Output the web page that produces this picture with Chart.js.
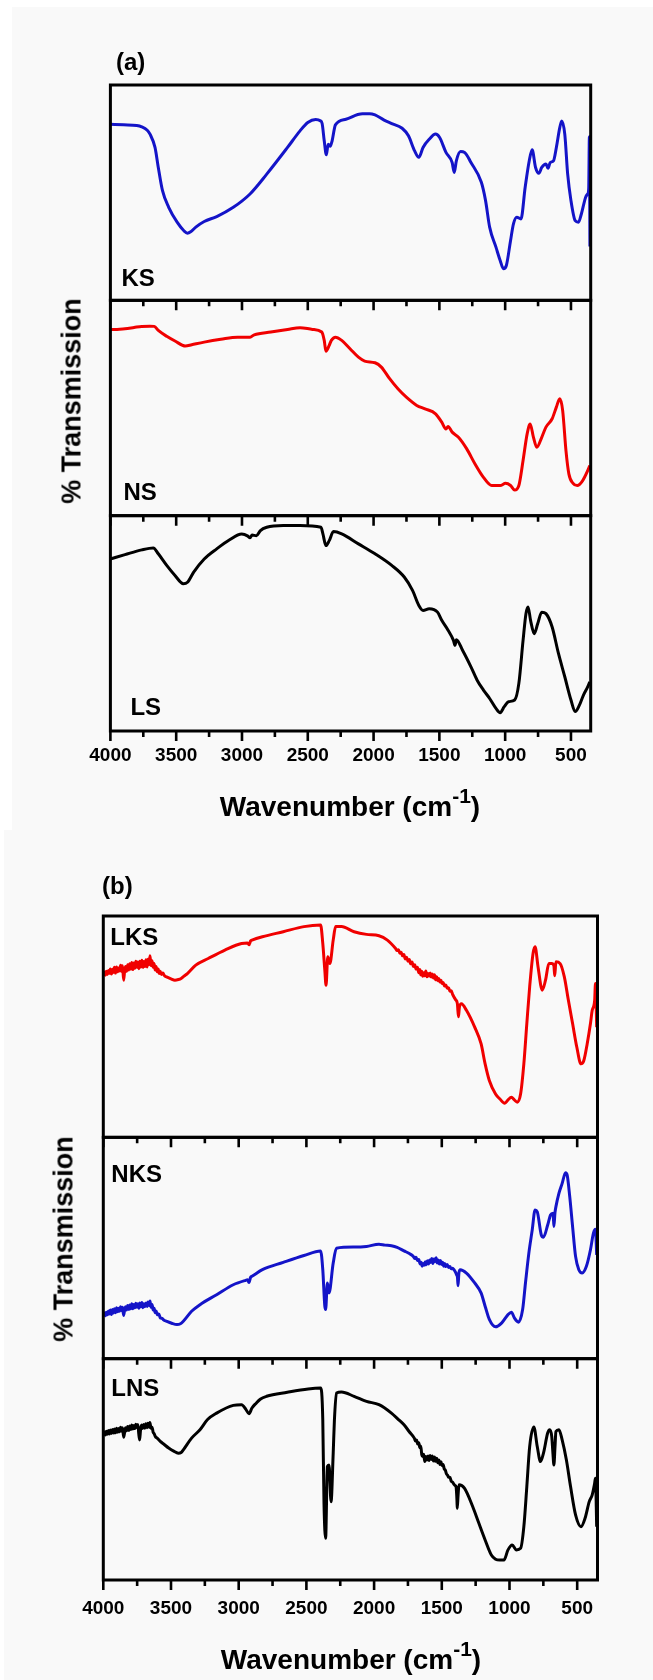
<!DOCTYPE html>
<html>
<head>
<meta charset="utf-8">
<script src="https://cdn.jsdelivr.net/npm/chart.js@4.4.1/dist/chart.umd.min.js"></script>
<style>
  body { margin: 0; background: #fff; width: 653px; height: 1680px; position: relative; overflow: hidden;
         font-family: "Liberation Sans", Arial, sans-serif; font-weight: bold; color: #000; }
  .panel { position: absolute; background: #f9f9f9; }
  #bgA { left: 12px; top: 7px; width: 641px; height: 823px; }
  #bgB { left: 4px; top: 830px; width: 649px; height: 850px; }
  canvas { position: absolute; left: 0; }
  #chartA { top: 0; }
  #chartB { top: 830px; }
  .txt { position: absolute; line-height: 1; white-space: nowrap; }
  .ytitle { font-size: 27px; transform: translate(-50%, -50%) rotate(-90deg); }
  .xtitle { font-size: 28px; transform: translateX(-50%); }
  .xtitle sup { font-size: 21px; vertical-align: baseline; position: relative; top: -13px; }
  .tag { font-size: 24px; }
</style>
</head>
<body>
<div class="panel" id="bgA"></div>
<div class="panel" id="bgB"></div>
<canvas id="chartA" width="653" height="830"></canvas>
<canvas id="chartB" width="653" height="850"></canvas>

<div class="txt tag" style="left:116px; top:50px;">(a)</div>
<div class="txt ytitle" style="left:72px; top:401px;">% Transmission</div>
<div class="txt xtitle" style="left:350px; top:793px;">Wavenumber (cm<sup>-1</sup>)</div>

<div class="txt tag" style="left:102px; top:874px;">(b)</div>
<div class="txt ytitle" style="left:64px; top:1239px;">% Transmission</div>
<div class="txt xtitle" style="left:351px; top:1646px;">Wavenumber (cm<sup>-1</sup>)</div>

<script>
// x axis (wavenumber, cm-1)
const xMin = 350, xMax = 4000;
const xTicks = [4000, 3500, 3000, 2500, 2000, 1500, 1000, 500];

// panel (a) spectra: [wavenumber, transmission (0-100 of its own strip)]
const KS = [[4000,81.8],[3900,81.5],[3800,81.2],[3762,80.6],[3720,79],[3699,77.2],[3661,71.0],[3636,61.7],[3604,50.9],[3557,43.2],[3493,36.3],[3440,32.2],[3415,31.2],[3390,31.8],[3351,34.0],[3287,36.6],[3192,38.9],[3066,43.2],[2939,49.4],[2812,58.6],[2654,71.0],[2559,78.7],[2500,82.6],[2440,84.0],[2405,83.4],[2391,82.1],[2375,74.1],[2359,67.6],[2345,72.5],[2330,71.5],[2315,74.1],[2290,81.5],[2210,84.1],[2120,86.3],[2084,86.7],[2030,86.7],[1989,86.1],[1920,83.7],[1862,82.1],[1783,79.9],[1735,76.4],[1688,69.4],[1656,66.4],[1624,71.0],[1577,74.8],[1529,77.2],[1498,75.6],[1450,68.7],[1403,64.0],[1387,59.4],[1371,64.8],[1339,69.1],[1308,68.7],[1260,64.0],[1181,54.8],[1149,46.3],[1118,34.0],[1070,24.7],[1038,18.5],[1013,14.7],[991,16.2],[959,27.8],[937,35.5],[912,38.6],[880,37.8],[848,52.5],[817,64.8],[795,69.9],[769,61.7],[744,59.0],[722,61.7],[690,63.3],[674,61.3],[658,64.0],[633,64.8],[611,71.0],[585,80.2],[570,83.3],[547,77.2],[525,58.6],[500,46.3],[468,37.0],[443,36.3],[421,40.1],[389,47.8],[373,49.4],[365,52],[360,76],[356,25]];
const NS = [[4000,86.4],[3930,86.6],[3889,86.8],[3820,87.4],[3762,87.9],[3700,88.0],[3667,87.9],[3636,86.0],[3572,83.3],[3509,81.1],[3430,78.8],[3382,79.4],[3287,80.6],[3161,81.9],[3034,82.9],[2939,82.9],[2907,84.0],[2781,85.3],[2654,86.5],[2559,87.3],[2464,86.5],[2394,85.3],[2375,81.4],[2362,76.4],[2337,79.1],[2321,81.4],[2290,82.9],[2242,81.4],[2179,77.5],[2115,73.6],[2068,71.8],[1989,71.0],[1941,69.0],[1878,63.6],[1815,58.9],[1751,55.0],[1672,51.2],[1609,49.6],[1529,47.3],[1482,43.4],[1450,40.3],[1434,41.4],[1403,38.8],[1355,36.4],[1292,31.0],[1229,24.0],[1165,17.8],[1102,14.0],[1038,14.0],[997,15.0],[959,14.0],[928,11.9],[896,14.0],[864,25.6],[833,38.0],[810,42.6],[785,36.4],[760,31.8],[722,36.4],[690,41.1],[643,45.0],[611,50.4],[585,54.3],[563,48.8],[538,30.2],[516,19.4],[484,15.0],[452,14.0],[411,16.3],[373,20.9],[357,23.3]];
const LS = [[4000,79.9],[3889,81.9],[3762,84.1],[3674,85.0],[3636,82.3],[3572,76.9],[3509,72.2],[3446,68.4],[3414,69.1],[3367,73.8],[3287,79.9],[3192,84.6],[3097,88.7],[3002,91.5],[2955,90.5],[2939,89.7],[2923,91.0],[2891,90.7],[2860,93.1],[2812,94.6],[2686,95.4],[2559,95.4],[2400,94.6],[2385,91.5],[2362,86.1],[2337,88.4],[2305,92.6],[2242,91.5],[2115,86.9],[1989,82.3],[1862,76.9],[1767,71.5],[1704,65.3],[1656,58.3],[1624,56.0],[1577,56.8],[1514,55.2],[1482,51.4],[1434,46.8],[1393,42.1],[1381,39.8],[1371,42.4],[1324,37.5],[1260,29.8],[1213,23.6],[1165,19.0],[1118,15.1],[1070,10.5],[1038,8.5],[1007,11.3],[975,13.6],[928,14.4],[896,22.1],[864,42.1],[842,54.5],[826,57.6],[807,51.4],[779,45.2],[753,49.8],[722,55.2],[690,54.5],[643,48.3],[595,36.0],[547,25.2],[500,14.4],[468,9.0],[436,12.0],[405,16.7],[373,20.5],[357,22.8]];

// panel (b) spectra
const LKS = [[4000,73.3],[3992,74.6],[3985,73.2],[3978,75.0],[3970,73.6],[3962,75.4],[3955,74.1],[3948,76.0],[3940,73.8],[3932,75.9],[3925,74.5],[3918,76.8],[3910,74.2],[3902,77.0],[3895,74.8],[3888,76.5],[3880,75.2],[3872,77.8],[3865,75.0],[3858,77.5],[3850,71.0],[3843,74.8],[3836,77.2],[3828,75.0],[3820,78.0],[3812,75.6],[3805,78.4],[3797,76.0],[3790,79.0],[3782,75.8],[3775,78.8],[3767,76.4],[3760,79.5],[3752,76.8],[3745,79.2],[3737,76.2],[3730,79.6],[3722,77.0],[3715,80.0],[3707,76.8],[3700,79.4],[3692,77.2],[3685,80.2],[3677,77.0],[3670,80.5],[3662,78.0],[3655,82.0],[3648,77.6],[3640,79.8],[3632,76.8],[3625,78.5],[3617,75.6],[3610,77.2],[3602,74.8],[3595,76.0],[3587,74.0],[3580,75.0],[3570,73.6],[3560,74.2],[3548,73.0],[3533,72.5],[3500,71.6],[3471,71.0],[3445,71.3],[3425,71.8],[3400,73.0],[3379,74.0],[3317,77.8],[3225,80.8],[3102,84.6],[2979,87.6],[2935,87.8],[2924,87.0],[2912,88.8],[2902,89.1],[2825,90.6],[2671,92.9],[2518,95.2],[2395,95.9],[2379,87.6],[2364,75.5],[2355,68.7],[2342,81.6],[2327,78.5],[2302,89.1],[2284,95.2],[2241,95.2],[2148,92.9],[2056,91.7],[1964,91.1],[1902,89.1],[1841,85.3],[1830,84.4],[1820,84.8],[1810,83.2],[1800,83.6],[1790,82.0],[1780,82.6],[1770,80.6],[1760,81.4],[1750,79.6],[1740,80.4],[1730,78.4],[1720,79.2],[1710,77.2],[1700,78.0],[1690,76.0],[1680,76.8],[1670,74.4],[1662,75.8],[1655,73.4],[1648,75.0],[1641,72.8],[1634,74.4],[1626,73.0],[1618,75.2],[1610,72.6],[1602,74.0],[1594,72.8],[1586,74.2],[1578,72.4],[1570,73.8],[1562,72.0],[1554,73.4],[1546,71.2],[1538,72.6],[1530,70.8],[1522,71.8],[1514,70.2],[1506,71.0],[1498,69.4],[1490,70.0],[1480,68.4],[1470,68.8],[1460,67.4],[1450,67.6],[1440,66.0],[1430,66.2],[1420,64.6],[1410,63.4],[1398,62.2],[1385,60.4],[1377,54.5],[1370,58.8],[1355,60.4],[1318,57.4],[1257,49.8],[1210,42.3],[1180,33.2],[1149,25.7],[1103,19.6],[1072,17.4],[1035,15.4],[1011,16.9],[986,18.1],[964,16.9],[943,15.9],[918,19.6],[894,33.2],[872,51.4],[851,68.0],[826,83.1],[811,86.1],[789,77.0],[758,66.5],[734,71.0],[709,78.5],[688,78.5],[672,77.5],[666,73.0],[657,79.3],[626,78.5],[595,72.5],[565,61.9],[534,51.4],[503,40.8],[472,33.2],[451,34.7],[426,42.3],[402,51.4],[389,57.4],[371,61.9],[365,69.5],[356,49.8]];
const NKS = [[4000,19.2],[3992,20.6],[3985,19.4],[3978,21.0],[3970,19.8],[3962,21.5],[3955,20.2],[3948,22.0],[3940,20.0],[3932,22.2],[3925,20.6],[3918,22.6],[3910,20.8],[3902,23.0],[3895,21.2],[3888,22.8],[3880,21.4],[3872,23.4],[3865,21.6],[3858,23.2],[3850,19.5],[3843,21.8],[3836,23.5],[3828,22.0],[3820,24.0],[3812,22.2],[3805,24.2],[3797,22.5],[3790,24.8],[3782,22.6],[3775,24.5],[3767,23.0],[3760,25.0],[3752,23.2],[3745,24.8],[3737,22.8],[3730,25.2],[3722,23.4],[3715,25.4],[3707,23.0],[3700,24.8],[3692,23.5],[3685,25.2],[3677,23.6],[3670,25.6],[3662,24.0],[3655,26.0],[3648,23.2],[3640,24.5],[3632,22.0],[3625,22.8],[3617,20.8],[3610,21.5],[3600,19.8],[3590,20.2],[3579,18.4],[3565,18.2],[3555,17.5],[3533,16.9],[3495,16.0],[3456,15.4],[3430,15.8],[3409,16.9],[3348,21.4],[3286,24.4],[3163,28.9],[3040,33.4],[2948,35.4],[2935,35.6],[2924,34.4],[2912,36.8],[2902,37.2],[2825,40.2],[2671,43.5],[2518,46.6],[2395,48.7],[2379,40.2],[2364,23.7],[2358,22.2],[2345,34.2],[2333,29.7],[2302,43.2],[2278,49.9],[2148,50.4],[2056,50.7],[1964,51.7],[1920,51.3],[1872,51.0],[1830,50.3],[1779,48.7],[1740,47.5],[1710,46.2],[1700,45.2],[1690,45.8],[1680,44.4],[1670,44.8],[1660,42.8],[1652,43.6],[1645,41.8],[1638,43.0],[1630,42.2],[1622,43.8],[1614,42.4],[1606,44.2],[1598,42.8],[1590,44.6],[1582,43.4],[1574,45.2],[1566,43.0],[1558,45.0],[1550,43.8],[1542,45.6],[1534,43.2],[1526,44.6],[1518,42.8],[1510,44.4],[1502,42.6],[1494,43.6],[1486,41.8],[1478,43.0],[1470,41.6],[1460,42.6],[1450,41.2],[1440,41.6],[1430,40.6],[1420,40.8],[1410,40.2],[1398,39.0],[1390,37.8],[1384,36.6],[1380,33.0],[1374,38.5],[1364,40.2],[1318,38.7],[1257,34.2],[1210,29.7],[1180,23.7],[1149,17.7],[1103,14.4],[1057,16.2],[1011,19.9],[986,21.0],[964,18.4],[934,16.5],[903,22.2],[882,34.2],[857,47.7],[832,58.2],[811,67.2],[795,66.4],[765,55.9],[749,54.9],[718,60.4],[697,64.9],[678,65.7],[672,59.7],[664,66.0],[657,68.7],[635,74.7],[611,79.2],[586,84.0],[574,82.9],[555,73.2],[534,59.7],[512,46.2],[488,40.2],[463,38.7],[432,41.7],[402,49.2],[380,56.7],[365,58.5],[356,46.9]];
const LNS = [[4000,65.6],[3992,66.9],[3985,65.5],[3978,67.2],[3970,65.8],[3962,67.5],[3955,66.0],[3948,67.8],[3940,66.2],[3932,68.0],[3925,66.4],[3918,68.2],[3910,66.5],[3902,68.6],[3895,66.8],[3888,68.4],[3880,67.0],[3872,69.0],[3865,67.2],[3858,68.8],[3850,64.5],[3843,66.5],[3836,68.8],[3828,67.4],[3820,69.4],[3812,67.6],[3805,69.6],[3797,68.0],[3790,70.0],[3782,68.2],[3775,69.8],[3767,68.4],[3760,70.4],[3752,68.8],[3745,70.2],[3738,66.0],[3732,63.3],[3725,67.8],[3718,70.0],[3710,68.4],[3702,70.2],[3694,68.6],[3686,70.6],[3678,68.8],[3670,70.8],[3662,69.0],[3656,71.2],[3648,68.6],[3640,69.0],[3632,66.8],[3625,66.2],[3615,64.8],[3600,64.0],[3579,62.6],[3550,61.2],[3517,59.6],[3480,58.2],[3446,57.3],[3425,57.6],[3409,58.8],[3348,64.1],[3286,67.9],[3230,72.5],[3163,75.4],[3040,78.9],[2979,79.2],[2948,77.2],[2924,75.1],[2902,77.7],[2871,79.9],[2841,81.7],[2794,83.0],[2641,84.8],[2487,86.3],[2395,86.7],[2379,72.4],[2370,34.7],[2358,18.9],[2345,51.3],[2333,52.0],[2318,35.4],[2302,57.3],[2293,72.4],[2278,84.5],[2241,84.9],[2148,83.0],[2056,80.7],[1964,79.2],[1872,75.4],[1820,72.5],[1779,70.1],[1740,67.0],[1703,64.1],[1694,62.8],[1686,63.2],[1678,61.4],[1670,62.0],[1662,59.8],[1655,60.4],[1648,56.6],[1641,55.8],[1634,56.8],[1626,53.5],[1618,55.8],[1610,54.2],[1602,56.0],[1594,54.0],[1586,56.2],[1578,54.4],[1570,56.0],[1562,53.8],[1554,55.6],[1546,53.6],[1538,55.0],[1530,53.0],[1522,54.2],[1514,52.2],[1506,53.4],[1498,51.6],[1490,52.2],[1482,50.2],[1474,49.6],[1466,48.0],[1458,47.4],[1450,46.4],[1440,46.4],[1430,44.6],[1420,44.2],[1410,43.2],[1400,42.6],[1395,42.2],[1388,36.0],[1386,32.4],[1380,38.0],[1373,43.0],[1333,41.5],[1272,33.2],[1226,25.6],[1180,18.1],[1134,11.3],[1103,9.4],[1072,9.0],[1041,9.0],[1011,13.6],[980,15.8],[949,13.6],[918,14.3],[894,24.1],[872,42.2],[851,60.3],[820,69.1],[795,60.3],[771,53.5],[749,57.3],[718,66.4],[703,67.9],[688,64.9],[680,58.0],[672,52.0],[664,60.0],[657,67.1],[635,67.9],[611,63.3],[580,54.3],[549,42.2],[512,29.4],[472,24.1],[442,27.9],[411,35.4],[389,38.5],[371,43.7],[365,46.0],[356,24.1]];

const BLUE = "#1414c8", RED = "#f00000", BLACK = "#000000";
const FONT = '"Liberation Sans", Arial, sans-serif';

// draws the strip frames, the bottom tick marks of every strip and the sample names
const framePlugin = {
  id: "frames",
  afterDatasetsDraw(chart, args, opts) {
    const ctx = chart.ctx;
    const area = chart.chartArea;
    const xs = chart.scales.x;
    ctx.save();
    chart.data.datasets.forEach((ds, i) => {
      const ys = chart.scales[ds.yAxisID];
      ctx.strokeStyle = "#000";
      ctx.lineWidth = 3;
      ctx.strokeRect(area.left, ys.top, area.right - area.left, ys.bottom - ys.top);
      ctx.lineWidth = 2.6;
      ctx.beginPath();
      for (let v = xMax; v >= xMin; v -= 250) {
        const px = xs.getPixelForValue(v);
        const len = v % 500 === 0 ? 10 : 6;
        ctx.moveTo(px, ys.bottom);
        ctx.lineTo(px, ys.bottom + len);
      }
      ctx.stroke();
      const spot = opts.spots[i];
      ctx.fillStyle = "#000";
      ctx.font = "bold 24px " + FONT;
      ctx.textBaseline = "alphabetic";
      ctx.textAlign = "left";
      const y = spot.fromTop ? ys.top + spot.dy : ys.bottom - spot.dy;
      ctx.fillText(ds.label, area.left + spot.dx, y);
    });
    ctx.restore();
  }
};

function makeFigure(id, names, series, colors, spots, pad) {
  const scales = {
    x: {
      type: "linear", reverse: true, min: xMin, max: xMax,
      grid: { display: false, drawTicks: false },
      border: { display: false },
      ticks: {
        color: "#000", padding: pad.tickPad, maxRotation: 0, autoSkip: false,
        font: { family: FONT, size: 19, weight: "bold" },
        callback: v => String(v)
      },
      afterBuildTicks: s => { s.ticks = xTicks.map(v => ({ value: v })); },
      afterFit: s => { s.height = 60; }
    }
  };
  names.forEach((n, i) => {
    scales["y" + i] = {
      type: "linear", min: 0, max: 100, display: false, position: "left",
      stack: "strips", stackWeight: 1, weight: names.length - i
    };
  });
  return new Chart(document.getElementById(id), {
    type: "line",
    data: {
      datasets: names.map((n, i) => ({
        label: n,
        data: series[i].map(p => ({ x: p[0], y: p[1] })),
        yAxisID: "y" + i,
        borderColor: colors[i],
        borderWidth: 3,
        pointRadius: 0,
        cubicInterpolationMode: "monotone",
        fill: false
      }))
    },
    options: {
      responsive: false,
      animation: false,
      devicePixelRatio: 1,
      layout: { padding: { left: pad.left, right: pad.right, top: pad.top, bottom: pad.bottom } },
      scales: scales,
      plugins: {
        legend: { display: false },
        tooltip: { enabled: false },
        frames: { spots: spots }
      }
    },
    plugins: [framePlugin]
  });
}

makeFigure("chartA", ["KS", "NS", "LS"], [KS, NS, LS], [BLUE, RED, BLACK],
  [{ dx: 11, dy: 14 }, { dx: 13, dy: 16 }, { dx: 20, dy: 16 }],
  { left: 110.4, right: 62.3, top: 85, bottom: 39, tickPad: 13 });

makeFigure("chartB", ["LKS", "NKS", "LNS"], [LKS, NKS, LNS], [RED, BLUE, BLACK],
  [{ dx: 7, dy: 29, fromTop: true }, { dx: 8, dy: 45, fromTop: true }, { dx: 8, dy: 37, fromTop: true }],
  { left: 103.3, right: 55.5, top: 86, bottom: 40, tickPad: 17 });
</script>
</body>
</html>
